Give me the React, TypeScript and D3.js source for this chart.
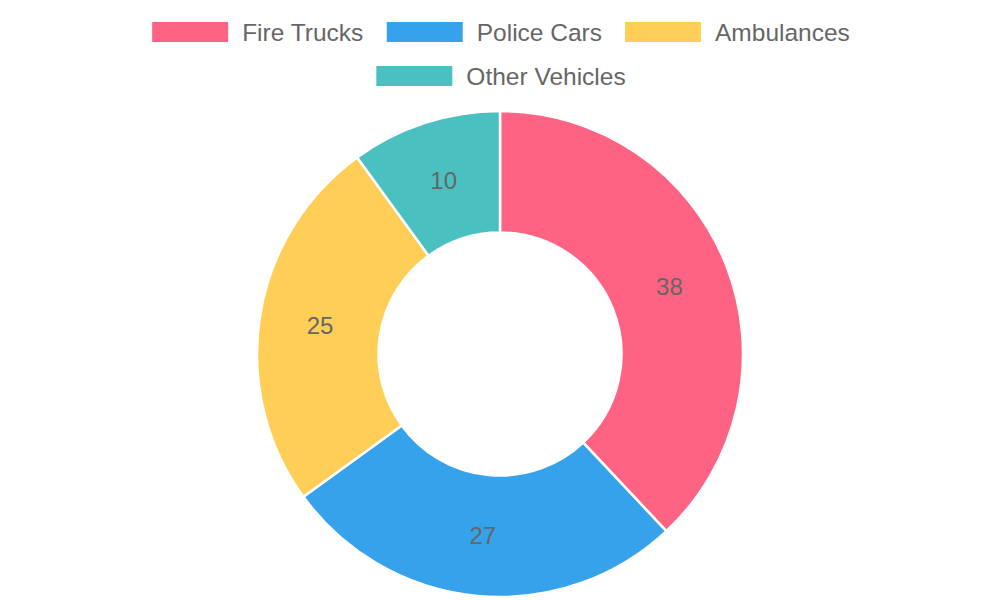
import { useEffect, useRef } from "react";
import * as d3 from "d3";

const labels = ["Fire Trucks", "Police Cars", "Ambulances", "Other Vehicles"];
const values = [38, 27, 25, 10];
const colors = ["#FF6384", "#36A2EB", "#FFCE56", "#4BC0C0"];

export default function App() {
    const svgRef = useRef<SVGSVGElement | null>(null);

    useEffect(() => {
        document.body.style.margin = "0";

        const width = 1000;
        const height = 600;
        const font = "'Liberation Sans', Arial, Helvetica, sans-serif";
        const textColor = "#666";

        const svg = d3.select(svgRef.current)
            .attr("width", width)
            .attr("height", height)
            .attr("viewBox", `0 0 ${width} ${height}`);
        svg.selectAll("*").remove();

        // Legend layout (two rows, centered)
        const legendFont = 24.5;
        const boxW = 76;
        const boxH = 20;
        const boxGap = 14;
        const itemGap = 23;
        const rows = [[0, 1, 2], [3]];
        const rowY = [32, 76];

        const ctx = document.createElement("canvas").getContext("2d")!;
        ctx.font = `${legendFont}px ${font}`;

        const legend = svg.append("g").attr("class", "legend");
        rows.forEach((row, ri) => {
            const widths = row.map(i => boxW + boxGap + ctx.measureText(labels[i]).width);
            const total = d3.sum(widths) + itemGap * (row.length - 1);
            let x = width / 2 + 1 - total / 2;
            row.forEach((i, k) => {
                legend.append("rect")
                    .attr("x", x)
                    .attr("y", rowY[ri] - boxH / 2)
                    .attr("width", boxW)
                    .attr("height", boxH)
                    .attr("fill", colors[i]);
                legend.append("text")
                    .attr("x", x + boxW + boxGap)
                    .attr("y", rowY[ri])
                    .attr("dy", "0.35em")
                    .attr("font-family", font)
                    .attr("font-size", legendFont)
                    .attr("fill", textColor)
                    .text(labels[i]);
                x += widths[k] + itemGap;
            });
        });

        // Doughnut
        const cx = 500;
        const cy = 354;
        const outerR = 243;
        const innerR = outerR * 0.5;

        const pie = d3.pie<number>().sort(null).value(d => d);
        const arcs = pie(values);
        const arc = d3.arc<d3.PieArcDatum<number>>()
            .innerRadius(innerR)
            .outerRadius(outerR);
        const labelArc = d3.arc<d3.PieArcDatum<number>>()
            .innerRadius((innerR + outerR) / 2)
            .outerRadius((innerR + outerR) / 2);

        const g = svg.append("g").attr("transform", `translate(${cx},${cy})`);

        g.selectAll(".slice")
            .data(arcs)
            .enter()
            .append("path")
            .attr("class", "slice")
            .attr("d", arc)
            .attr("fill", (_, i) => colors[i])
            .attr("stroke", "#fff")
            .attr("stroke-width", 2.5)
            .attr("stroke-linejoin", "miter");

        g.selectAll(".value")
            .data(arcs)
            .enter()
            .append("text")
            .attr("class", "value")
            .attr("transform", d => `translate(${labelArc.centroid(d)})`)
            .attr("text-anchor", "middle")
            .attr("dy", "0.35em")
            .attr("font-family", font)
            .attr("font-size", 24)
            .attr("fill", textColor)
            .text(d => d.data);
    }, []);

    return <svg ref={svgRef} style={{ display: "block" }} />;
}
